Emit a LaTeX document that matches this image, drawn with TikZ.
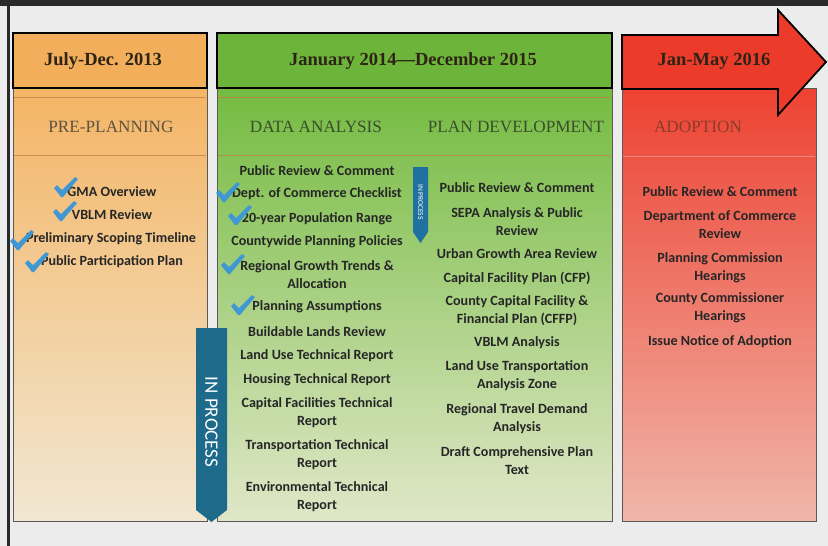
\documentclass[tikz,border=0pt]{standalone}
\usepackage{fontspec}
\setmainfont{Liberation Serif}
\newfontfamily\itemfont{Carlito}
\definecolor{bgc}{HTML}{ECECEC}
\definecolor{framec}{HTML}{2A2A2A}
\definecolor{orhead}{HTML}{F2AE5A}
\definecolor{ortop}{HTML}{F4B565}
\definecolor{ormid}{HTML}{F5CC98}
\definecolor{orbot}{HTML}{F1E7D2}
\definecolor{grhead}{HTML}{6CB53A}
\definecolor{grtop}{HTML}{74BB40}
\definecolor{grmid}{HTML}{B0D383}
\definecolor{grbot}{HTML}{E0E7C8}
\definecolor{rdhead}{HTML}{EC3B2B}
\definecolor{rdtop}{HTML}{EE4232}
\definecolor{rdmid}{HTML}{F08C7C}
\definecolor{rdbot}{HTML}{EFB6A9}
\definecolor{itemc}{HTML}{262626}
\definecolor{headc}{HTML}{2E2416}
\definecolor{sepc}{HTML}{C8784A}
\definecolor{tickc}{HTML}{3F98D3}
\definecolor{ipc}{HTML}{1D6A8B}
\definecolor{ipc2}{HTML}{2070A0}
\definecolor{secor}{HTML}{5C5242}
\definecolor{secgr}{HTML}{3A4E2C}
\definecolor{secrd}{HTML}{8C3B28}
\tikzset{
  item/.style={font=\itemfont\bfseries\fontsize{14.1}{18}\selectfont, text=itemc, align=center, inner sep=0pt, anchor=center},
  headtxt/.style={font=\bfseries\fontsize{18.5}{22}\selectfont, text=headc, inner sep=0pt},
  secttxt/.style={font=\fontsize{17.2}{20}\selectfont, inner sep=0pt},
  hdbox/.style={draw=black, line width=1.8pt, line join=miter},
  bodybox/.style={draw=black!65, line width=0.9pt},
  sepline/.style={draw=sepc, line width=0.8pt, opacity=0.75},
  tick/.pic={\fill[tickc] (0,10) -- (3,7) -- (8,12) -- (21,-1) -- (24,1) -- (9,19) -- (7,19) -- cycle;},
}
\begin{document}
\begin{tikzpicture}[x=1pt,y=-1pt]
\useasboundingbox (0,0) rectangle (828,546);
\fill[bgc] (0,0) rectangle (828,546);
\fill[framec] (0,0) rectangle (828,6);
\fill[framec] (7,6) rectangle (9.5,546);

% column bodies
\shade[top color=ortop, middle color=ormid, bottom color=orbot] (13,88) rectangle (207,521);
\draw[bodybox] (13,88) rectangle (207,521);
\shade[top color=grtop, middle color=grmid, bottom color=grbot] (217,88) rectangle (612,521);
\draw[bodybox] (217,88) rectangle (612,521);
\shade[top color=rdtop, middle color=rdmid, bottom color=rdbot] (622,88) rectangle (816,521);
\draw[bodybox] (622,88) rectangle (816,521);

% separators
\draw[sepline] (14,97) -- (206,97);
\draw[sepline] (14,155) -- (206,155);
\draw[sepline] (218,97) -- (611,97);
\draw[sepline] (218,155) -- (611,155);
\draw[sepline, draw=white, opacity=0.3] (623,156) -- (815,156);

% headers
\draw[hdbox, fill=orhead] (13,33) rectangle (207,88);
\draw[hdbox, fill=grhead] (217,33) rectangle (612,88);
\draw[hdbox, fill=rdhead] (622,35) -- (778,35) -- (778,10) -- (826,62) -- (778,115) -- (778,89) -- (622,89) -- cycle;

\node[headtxt] (h1) at (103,61) {July-Dec. 2013};
\node[headtxt] (h2) at (413,61) {January 2014—December 2015};
\node[headtxt] (h3) at (714,61) {Jan-May 2016};

\node[secttxt, text=secor] (s1) at (111,127) {PRE-PLANNING};
\node[secttxt, text=secgr] (s2) at (316,127) {DATA ANALYSIS};
\node[secttxt, text=secgr] (s3) at (516,127) {PLAN DEVELOPMENT};
\node[secttxt, text=secrd] (s4) at (698,127) {ADOPTION};

% pre-planning
\node[item] (p1) at (112,192) {GMA Overview};
\node[item] (p2) at (112,215) {VBLM Review};
\node[item] (p3) at (111,239) {Preliminary Scoping Timeline};
\node[item] (p4) at (112,262) {Public Participation Plan};

% data analysis
\node[item] (d1) at (317,171) {Public Review \& Comment};
\node[item] (d2) at (317,194) {Dept. of Commerce Checklist};
\node[item] (d3) at (317,219) {20-year Population Range};
\node[item] (d4) at (317,242) {Countywide Planning Policies};
\node[item] (d5) at (317,275) {Regional Growth Trends \&\\Allocation};
\node[item] (d6) at (317,307) {Planning Assumptions};
\node[item] (d7) at (317,332) {Buildable Lands Review};
\node[item] (d8) at (317,356) {Land Use Technical Report};
\node[item] (d9) at (317,380) {Housing Technical Report};
\node[item] (d10) at (317,412.5) {Capital Facilities Technical\\Report};
\node[item] (d11) at (317,455) {Transportation Technical\\Report};
\node[item] (d12) at (317,496.5) {Environmental Technical\\Report};

% plan development
\node[item] (e1) at (517,188) {Public Review \& Comment};
\node[item] (e2) at (517,222) {SEPA Analysis \& Public\\Review};
\node[item] (e3) at (517,254) {Urban Growth Area Review};
\node[item] (e4) at (517,278) {Capital Facility Plan (CFP)};
\node[item] (e5) at (517,311) {County Capital Facility \&\\Financial Plan (CFFP)};
\node[item] (e6) at (517,343) {VBLM Analysis};
\node[item] (e7) at (517,376) {Land Use Transportation\\Analysis Zone};
\node[item] (e8) at (517,419) {Regional Travel Demand\\Analysis};
\node[item] (e9) at (517,461) {Draft Comprehensive Plan\\Text};

% adoption
\node[item] (a1) at (720,192) {Public Review \& Comment};
\node[item] (a2) at (720,225) {Department of Commerce\\Review};
\node[item] (a3) at (720,267.5) {Planning Commission\\Hearings};
\node[item] (a4) at (720,308) {County Commissioner\\Hearings};
\node[item] (a5) at (720,342) {Issue Notice of Adoption};

% ticks
\pic at (54,178) {tick};
\pic at (53,202) {tick};
\pic at (10,231) {tick};
\pic at (25,253) {tick};
\pic at (216,183) {tick};
\pic at (228,206) {tick};
\pic at (221,255) {tick};
\pic at (231,296) {tick};

% in process markers
\fill[ipc] (196,328) -- (227,328) -- (227,510) -- (211.5,522) -- (196,510) -- cycle;
\node[font=\itemfont\fontsize{19}{22}\selectfont, text=white, rotate=-90, inner sep=0pt] (ip1) at (211.5,422) {IN PROCESS};
\fill[ipc2] (413,167) -- (428,167) -- (428,232) -- (420.5,243) -- (413,232) -- cycle;
\node[font=\itemfont\fontsize{7.5}{9}\selectfont, text=white, rotate=-90, inner sep=0pt] (ip2) at (420.5,202) {IN PROCESS};
\end{tikzpicture}
\end{document}
